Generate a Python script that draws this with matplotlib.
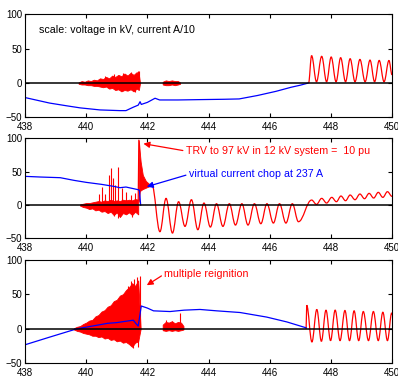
import matplotlib
matplotlib.use('Agg')
import matplotlib.pyplot as plt
from matplotlib.path import Path
from matplotlib.patches import PathPatch

plt.rcParams['font.family'] = ['Liberation Sans', 'DejaVu Sans']
plt.rcParams['font.size'] = 7

# ---------------- top panel: normal interruption ----------------
top_blue_x = [438, 438.8, 439.36, 439.8, 440.45, 441.1, 441.3, 441.54, 441.7, 441.76, 441.8, 442.0, 442.25, 442.4,
              443.0, 443.7, 444.5, 445.0, 445.6, 446.2, 446.7, 447.0, 447.25]
top_blue_y = [-21, -29, -33, -36, -39, -40, -40, -35, -32, -27, -31, -28, -22, -24.5,
              -24.5, -24, -23.5, -23, -18, -12, -6, -3, 0]

top_burst_x = [439.75, 439.85, 439.95, 440.05, 440.15, 440.25, 440.35, 440.45, 440.55, 440.65, 440.75,
               440.85, 440.95, 441.05, 441.15, 441.25, 441.35, 441.45, 441.55, 441.65, 441.72, 441.76]
top_burst_hi = [1, 3, 2, 4, 3, 5, 4, 7, 6, 9, 7, 11, 9, 12, 10, 14, 11, 15, 12, 16, 13, 0]
top_burst_lo = [-1, -2, -2, -3, -3, -4, -4, -5, -6, -5, -8, -7, -10, -9, -12, -10, -11, -9, -12, -8, -10, 0]
top_spike_x = [440.6, 440.9, 441.2, 441.45, 441.6, 441.7, 441.74]
top_spike_y = [10, 13, 15, 16, -13, 18, 17]

top_burst2_x = [442.5, 442.6, 442.7, 442.8, 442.9, 443.0, 443.07]
top_burst2_hi = [2, 4, 3, 4, 3, 3, 1]
top_burst2_lo = [-2, -3, -3, -2, -3, -2, -1]

# peaks / troughs of the recovery voltage
top_osc_x = [447.27, 447.37, 447.53, 447.70, 447.86, 448.01, 448.17, 448.32, 448.48, 448.63, 448.79,
             448.95, 449.12, 449.28, 449.43, 449.58, 449.74, 449.90, 450.0]
top_osc_y = [0, 40, 2, 39, 2, 38, 2, 37, 2, 35.5, 2, 34.5, 2, 33.5, 2, 33, 2, 33, 12]

# ---------------- middle panel: current chopping ----------------
mid_blue_x = [438, 438.5, 439.15, 439.6, 440.0, 440.5, 440.9, 441.1, 441.3, 441.5, 441.7, 441.74, 441.78]
mid_blue_y = [43, 42, 41, 37, 34, 31, 28, 26, 27, 25, 23, 22, 0]

mid_burst_x = [439.8, 439.9, 440.0, 440.1, 440.2, 440.3, 440.4, 440.5, 440.6, 440.7, 440.8, 440.9,
               441.0, 441.1, 441.2, 441.3, 441.4, 441.5, 441.6, 441.7]
mid_burst_hi = [1, 2, 3, 3, 4, 5, 6, 5, 7, 6, 8, 6, 7, 6, 8, 7, 8, 7, 9, 8]
mid_burst_lo = [-1, -3, -4, -6, -5, -8, -7, -10, -9, -12, -10, -15, -11, -18, -12, -14, -11, -15, -10, -14]
mid_spike_x = [440.42, 440.5, 440.62, 440.73, 440.8, 440.87, 440.95, 441.05, 441.16, 441.3, 441.45, 441.6,
               441.05, 440.9, 441.5]
mid_spike_y = [17, 27, 17, 45, 55, 40, 30, 57, 25, 20, 15, 18, -20, -17, -18]

# TRV spike and its decaying ring
trv_x = [441.72, 441.75, 441.78, 441.85, 441.95, 442.05, 442.15]
trv_hi = [97, 80, 65, 45, 36, 32, 30]
trv_lo = [5, 20, 22, 24, 26, 28, 30]

mid_osc_x = [442.15, 442.41, 442.61, 442.82, 443.02, 443.23, 443.44, 443.65, 443.85,
             444.06, 444.26, 444.47, 444.68, 444.88, 445.09, 445.29, 445.50, 445.71, 445.91, 446.12,
             446.32, 446.53, 446.74, 446.94, 447.37, 447.53, 447.70, 447.86, 448.03, 448.18,
             448.33, 448.48, 448.63, 448.79, 448.95, 449.1, 449.25, 449.4, 449.55, 449.7, 449.85, 450.0]
mid_osc_y = [30, -40, 10, -42, 5, -32, 8, -37, 3, -33, 2, -32, 2, -30, 2, -30, 2, -28, 2, -27,
             2, -27, 2, -25, 7.5, 1, 10, 3, 11.5, 5, 13.5, 6.5, 15, 8, 16.5, 9.5, 17.5, 10.5, 19, 11.5, 20, 13]

# ---------------- bottom panel: multiple reignition ----------------
bot_blue_x = [438, 438.8, 439.69, 440.2, 440.7, 441.0, 441.3, 441.54, 441.62, 441.7, 441.8, 442.0,
              442.2, 442.74, 443.2, 443.72, 444.27, 445.03, 445.9, 446.56, 447.19]
bot_blue_y = [-23, -12, 0, 4, 8, 9, 11, 12.5, 8, 4, 33, 30, 26, 25, 27, 28, 26, 23.6, 17, 10, 1.5]

bot_burst_x = [439.6, 439.7, 439.8, 439.9, 440.0, 440.1, 440.2, 440.3, 440.4, 440.5, 440.6, 440.7,
               440.8, 440.9, 441.0, 441.1, 441.2, 441.3, 441.4, 441.5, 441.6, 441.7, 441.78]
bot_burst_hi = [1, 3, 4, 7, 9, 12, 13, 18, 20, 25, 27, 32, 34, 40, 42, 48, 50, 56, 60, 66, 62, 70, 0]
bot_burst_lo = [-1, -3, -4, -6, -7, -8, -10, -10, -12, -11, -14, -13, -16, -15, -18, -17, -20, -19,
                -22, -26, -20, -18, 0]
bot_spike_x = [441.35, 441.45, 441.55, 441.65, 441.75, 441.52, 441.7]
bot_spike_y = [62, 69, 72, 75, 77, -27, -26]

bot_burst2_x = [442.5, 442.6, 442.7, 442.8, 442.9, 443.0, 443.1, 443.18]
bot_burst2_hi = [6, 10, 9, 11, 8, 10, 9, 4]
bot_burst2_lo = [-2, -3, -2, -3, -2, -3, -2, -1]
bot_spike2_x = [442.62, 442.8, 443.05]
bot_spike2_y = [13, 12, 23.5]

bot_osc_x = [447.19, 447.21, 447.38, 447.54, 447.69, 447.84, 447.99, 448.14, 448.30, 448.46, 448.61,
             448.76, 448.91, 449.06, 449.23, 449.39, 449.55, 449.70, 449.85, 449.99, 450.0]
bot_osc_y = [0, 34, -19, 28, -18, 27, -17, 27, -17, 26.5, -17, 26, -17, 25, -17, 25, -17, 24, -17, 23, 20]

xticks = [438, 440, 442, 444, 446, 448, 450]
yticks = [-50, 0, 50, 100]


def wave(ax, xs, ys, color):
    # bezier through the peaks/troughs, flat at every extremum
    verts = [(xs[0], ys[0])]
    codes = [Path.MOVETO]
    for i in range(1, len(xs)):
        dx = xs[i] - xs[i - 1]
        verts += [(xs[i - 1] + 0.37 * dx, ys[i - 1]), (xs[i] - 0.37 * dx, ys[i]), (xs[i], ys[i])]
        codes += [Path.CURVE4] * 3
    ax.add_patch(PathPatch(Path(verts, codes), fc='none', ec=color, lw=0.9))


fig = plt.figure(figsize=(3.98, 3.79), dpi=100)
ax1 = fig.add_axes([0.063, 0.690, 0.922, 0.272])
ax2 = fig.add_axes([0.063, 0.371, 0.922, 0.264])
ax3 = fig.add_axes([0.063, 0.041, 0.922, 0.274])

# top
ax1.fill_between(top_burst_x, top_burst_lo, top_burst_hi, color='r', lw=0.6)
ax1.vlines(top_spike_x, 0, top_spike_y, color='r', lw=0.8)
ax1.fill_between(top_burst2_x, top_burst2_lo, top_burst2_hi, color='r', lw=0.6)
wave(ax1, top_osc_x, top_osc_y, 'r')
ax1.plot(top_blue_x, top_blue_y, color='b', lw=0.9)
ax1.text(438.45, 78, 'scale: voltage in kV, current A/10', va='center', fontsize=7.7)

# middle
ax2.fill_between(mid_burst_x, mid_burst_lo, mid_burst_hi, color='r', lw=0.6)
ax2.vlines(mid_spike_x, 0, mid_spike_y, color='r', lw=0.8)
ax2.plot([441.7, 441.72], [8, 97], color='r', lw=0.9)
ax2.fill_between(trv_x, trv_lo, trv_hi, color='r', lw=0.6)
wave(ax2, mid_osc_x, mid_osc_y, 'r')
ax2.plot(mid_blue_x, mid_blue_y, color='b', lw=0.9)
ax2.annotate('TRV to 97 kV in 12 kV system =  10 pu', xy=(441.87, 92), xytext=(443.25, 81),
             color='r', va='center', fontsize=7.7,
             arrowprops=dict(arrowstyle='-|>', color='r', lw=0.9, shrinkA=0, shrinkB=0,
                             relpos=(0, 0.5), mutation_scale=9))
ax2.annotate('virtual current chop at 237 A', xy=(441.98, 27.5), xytext=(443.35, 46),
             color='b', va='center', fontsize=7.7,
             arrowprops=dict(arrowstyle='-|>', color='b', lw=0.9, shrinkA=0, shrinkB=0,
                             relpos=(0, 0.5), mutation_scale=9))

# bottom
ax3.fill_between(bot_burst_x, bot_burst_lo, bot_burst_hi, color='r', lw=0.6)
ax3.vlines(bot_spike_x, 0, bot_spike_y, color='r', lw=0.8)
ax3.fill_between(bot_burst2_x, bot_burst2_lo, bot_burst2_hi, color='r', lw=0.6)
ax3.vlines(bot_spike2_x, 0, bot_spike2_y, color='r', lw=0.8)
wave(ax3, bot_osc_x, bot_osc_y, 'r')
ax3.plot(bot_blue_x, bot_blue_y, color='b', lw=0.9)
ax3.annotate('multiple reignition', xy=(441.98, 63), xytext=(442.55, 79),
             color='r', va='center', fontsize=7.7,
             arrowprops=dict(arrowstyle='-|>', color='r', lw=0.9, shrinkA=0, shrinkB=0,
                             relpos=(0, 0.5), mutation_scale=9))

for ax in [ax1, ax2, ax3]:
    ax.axhline(0, color='k', lw=1.1, zorder=5)
    ax.set_xlim(438, 450)
    ax.set_ylim(-50, 100)
    ax.set_xticks(xticks)
    ax.set_yticks(yticks)
    ax.tick_params(direction='in', top=True, right=True, length=3, width=0.8, pad=2, labelsize=7)
    ax.tick_params(axis='x', pad=3)
    for s in ax.spines.values():
        s.set_linewidth(0.8)

plt.savefig('out.png', dpi=100)
